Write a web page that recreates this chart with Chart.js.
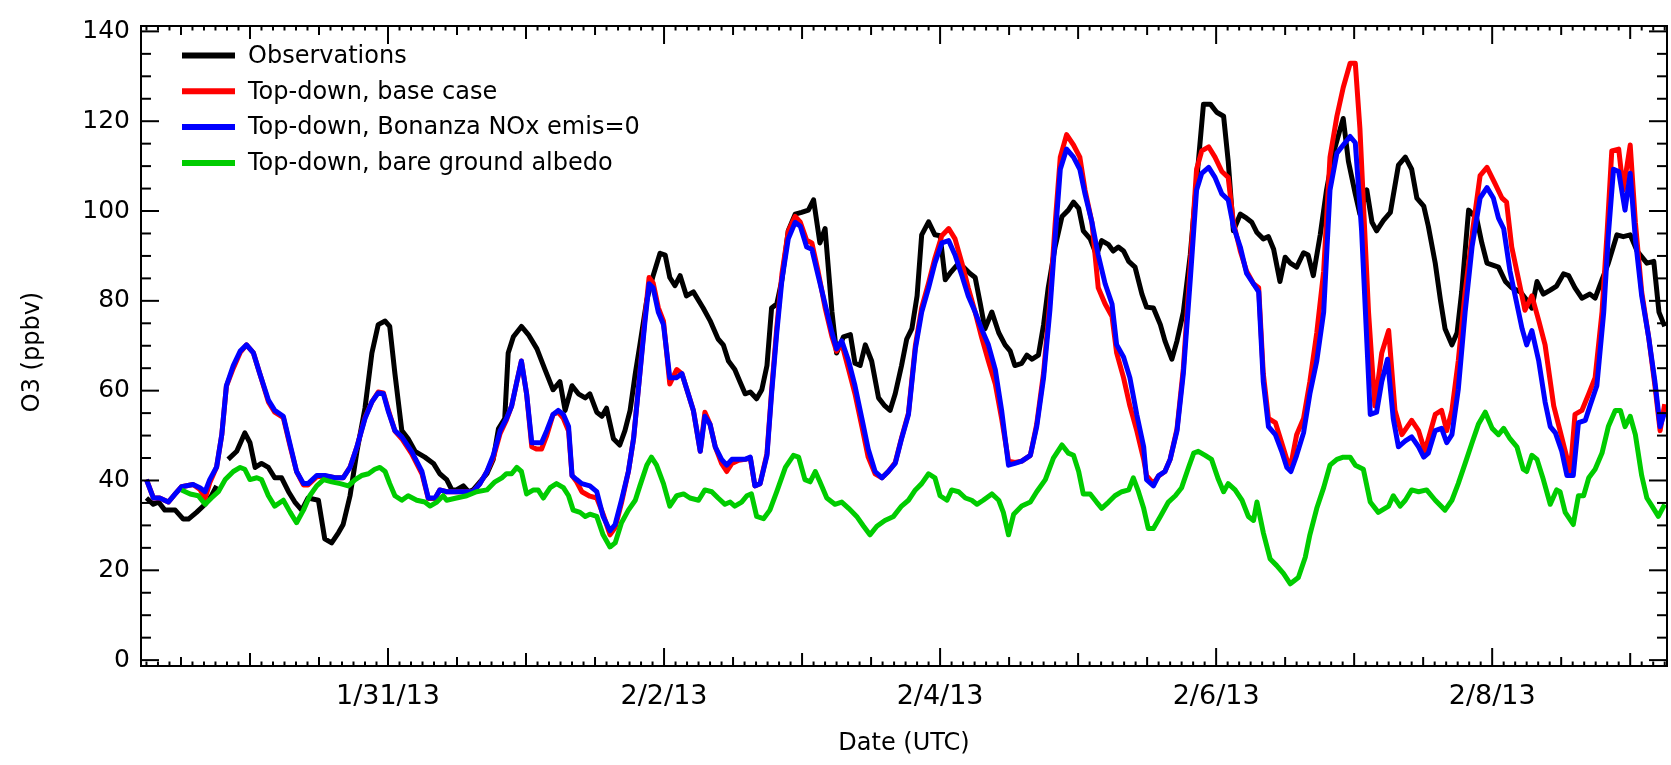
<!DOCTYPE html>
<html>
<head>
<meta charset="utf-8">
<title>O3 at the surface site</title>
<script src="https://cdn.jsdelivr.net/npm/chart.js@4.4.0/dist/chart.umd.min.js"></script>
<style>
  html, body { margin: 0; padding: 0; background: #fff; }
  #o3Chart { display: block; }
</style>
</head>
<body>
<canvas id="o3Chart" width="1671" height="765"></canvas>
<script>
// [hours after 1/29/13 00:00 UTC, O3 ppbv]
const observations = [[6,36.1],[7.2,34.7],[8.1,35.2],[9.2,33.4],[11,33.4],[12.4,31.4],[13.3,31.4],[14.7,32.9],[16.2,34.7],[17.3,36.6],[18.2,38.8],[19.2,null],[20.2,44.7],[21.7,46.5],[23.1,50.6],[24,48.4],[24.9,42.9],[26,43.8],[27.2,42.9],[28.3,40.6],[29.5,40.6],[30.7,37.5],[31.8,35.2],[33,33.4],[34.1,36.1],[35.9,35.6],[37,27],[38.2,26.1],[39.4,28.4],[40.2,30.2],[41.4,36.6],[42.6,46.5],[44,56.1],[45.2,68.4],[46.3,74.7],[47.5,75.5],[48.3,74.3],[49.2,63.8],[50.4,51.1],[51.5,49.3],[52.7,46.5],[54.4,45.2],[55.9,43.8],[57,41.5],[58.2,40.2],[59.1,37.9],[59.9,37.9],[61.1,38.8],[62,37.5],[62.8,37.9],[64,39.7],[65.2,41.5],[66.3,44.7],[67.2,51.5],[68.3,53.8],[68.9,68.4],[69.8,72],[71.2,74.3],[72.4,72.5],[73.9,69.3],[75.3,64.7],[76.7,60.2],[77.9,62],[78.8,55.6],[80,61.1],[81.1,59.3],[82.3,58.4],[83.1,59.3],[84.3,55.2],[85.2,54.3],[86,56.1],[87.2,49.3],[88.3,47.9],[89.2,51.1],[90.1,55.6],[91,63.8],[91.8,70.2],[93,80.2],[94.1,85.6],[95.3,90.6],[96.2,90.2],[97,85.2],[97.9,83.4],[98.8,85.6],[99.9,81.1],[101.1,82],[102.8,78.4],[104,75.6],[105.4,71.5],[106.3,70.2],[107.2,66.6],[108.3,64.7],[109.2,62],[110.1,59.3],[111,59.7],[112.1,58.2],[113,60.2],[113.9,65.6],[114.7,78.4],[115.6,79.3],[116.5,84.7],[117.6,95.6],[118.8,99.3],[119.9,99.7],[121.1,100.2],[122,102.5],[123.1,92.9],[124,96.1],[125.2,77.5],[126,68.4],[127.2,72],[128.4,72.5],[129.2,66.1],[130.1,65.6],[131,70.2],[132.1,66.6],[133.3,58.4],[134.4,56.6],[135.3,55.6],[136.2,59.3],[137.3,65.6],[138.2,71.5],[139.1,73.8],[140,81.1],[140.8,94.7],[142,97.6],[143.1,94.7],[144,94.5],[144.9,84.7],[145.7,86.1],[146.9,87.9],[148.1,87.5],[149.2,86.1],[150.1,85.2],[151,79.3],[151.8,73.8],[153,77.5],[154.2,72.9],[155.3,70.2],[156.2,68.8],[157,65.6],[158.2,66.1],[159.1,67.9],[160,67],[161.1,67.9],[162,74.7],[162.8,82.9],[164,92],[165.2,98.8],[166.3,100.2],[167.2,102],[168.1,100.6],[168.9,95.6],[170.1,93.8],[171.2,90.2],[172.1,93.4],[173.3,92.5],[174.1,91.1],[175,92],[175.9,91.1],[176.8,88.8],[177.9,87.5],[179.1,81.5],[179.9,78.6],[181.1,78.4],[182.3,74.7],[183.1,71.1],[184.3,67],[185.2,71.1],[186.3,77.5],[187.5,90.2],[188.6,106.5],[189.8,123.8],[191,123.8],[192.1,122],[193.3,121.1],[194.1,111.1],[195,95.6],[196.2,99.3],[197.3,98.4],[198.2,97.5],[199.1,95.2],[200.2,93.8],[201.1,94.3],[202,91.5],[203.1,84.3],[204,89.7],[204.9,88.4],[206,87.5],[207.2,90.7],[208,90.2],[208.9,85.6],[210.1,94.7],[211.2,104.7],[212.4,112.9],[213.6,118.4],[214.1,120.6],[215,111.1],[216.2,103.8],[217,99.3],[218.2,104.7],[219.1,97.5],[219.9,95.6],[221.1,97.9],[222.3,99.7],[223.7,110.2],[224.9,112],[226,109.3],[226.9,102.9],[228.1,101.1],[228.9,96.6],[230.1,88.4],[231,80.2],[231.8,73.8],[233,70.2],[233.9,72.9],[234.7,82],[235.9,100.2],[237.3,98.4],[238.2,92.9],[239.1,88.4],[241.1,87.5],[242.3,84.3],[243.4,82.9],[244.9,82],[246,80.2],[246.9,78.4],[247.8,84.3],[248.9,81.5],[250.1,82.4],[251.2,83.3],[252.4,86],[253.3,85.6],[254.4,82.9],[255.6,80.6],[257,81.5],[257.9,80.6],[259.1,84.7],[260.2,88.4],[261.7,94.7],[262.8,94.3],[264,94.7],[265.2,91.1],[266.9,88.4],[268.1,88.8],[269,77.5],[270,74.3]];

const baseCase = [[6,40.2],[7.2,36.1],[8.3,36.1],[9.8,35.2],[11,37],[12.1,38.6],[14.1,39.1],[15.3,38],[16.2,36],[17,39.5],[18.2,43],[19.1,50.2],[19.9,61],[21.1,65],[22.3,68.5],[23.4,70.2],[24.6,68.4],[25.7,63.8],[27.2,57.5],[28.3,55.2],[29.8,54],[31,47.5],[32.1,42],[33.3,39],[34.1,39],[35.6,40.8],[37,41],[38.8,40.6],[40.2,40.6],[41.4,43],[42.6,47.5],[44,54],[45.2,57.5],[46.3,59.7],[47.2,59.5],[48.1,55.5],[49.2,51],[50.4,49.3],[52.1,46],[53.9,41.5],[55,36],[56.2,36],[57,37.9],[58.2,37.5],[59.4,37.5],[60.5,37.5],[61.7,37.5],[62.8,37.5],[64,39.3],[65.2,42],[66.3,45],[67.5,50.5],[68.6,53.5],[69.5,56.6],[70.4,62],[71.2,66.6],[72.1,59.3],[73,47.5],[73.8,47],[74.7,47],[75.6,50],[76.7,54.7],[77.6,55.2],[78.5,53.8],[79.4,51],[80,41.1],[80.8,39.7],[81.7,37.5],[83.1,36.5],[84.3,36.1],[85.4,32.5],[86.6,27.9],[87.5,29.5],[88.6,35],[89.8,42],[90.7,49.3],[91.8,64],[92.7,76.5],[93.4,85.2],[94.1,84],[95,78.5],[95.9,75.5],[97,61.5],[98.2,64.7],[99.1,63.8],[100.2,59.3],[101.1,55.6],[102.3,46.5],[103.1,55.2],[104,52.5],[104.9,47.5],[106,43.8],[106.9,42],[107.8,43.8],[109,44.5],[110.1,44.7],[111,45],[111.8,38.8],[112.7,39.3],[113.9,46],[114.7,60],[115.6,74],[116.5,86],[117.6,95.5],[118.8,98.8],[119.7,97.5],[120.8,93.5],[121.7,92.9],[122.8,86.5],[124,78.5],[125.2,72],[126,68.8],[126.9,70.5],[128.1,64.7],[129.2,59.3],[130.4,52],[131.5,45.2],[132.7,41.5],[133.9,40.6],[135,42],[136.2,44],[137.3,49.5],[138.5,55],[139.7,70],[140.8,78.5],[142,84],[143.1,89.5],[144.3,94.5],[145.5,96.1],[146.6,93.8],[147.8,88.4],[148.9,82.9],[150.1,77.5],[151.2,72],[152.4,66.6],[153.6,61.5],[154.7,53.8],[155.9,44.3],[157,44],[158.2,44.3],[159.7,45.6],[160.8,52.5],[162,64],[163.1,80],[164,97],[164.9,112],[166,117],[167.2,114.7],[168.3,112],[169.2,104.7],[170.4,97.5],[171.5,82.9],[172.7,79.3],[173.9,76.5],[174.7,68.4],[175.9,62.9],[177,56.6],[178.2,51.1],[179.4,44.7],[179.9,41.1],[181.1,39.3],[182,41],[183.1,42],[184,44.7],[185.2,51.5],[186.3,65],[187.5,88],[188.6,109.3],[189.5,113.4],[190.7,114.3],[191.8,112],[193,108.8],[194.1,107.5],[195,97.5],[196.2,91.1],[197.3,86.6],[198.5,83.8],[199.4,82.9],[200.2,63.8],[201.1,53.8],[202.3,52.9],[203.4,48.4],[204.3,44.7],[205,43.5],[206,50.2],[207.2,53.8],[208.3,62],[209.5,72.9],[210.7,86.6],[211.8,112],[213,121.1],[214.1,127.5],[215.3,132.9],[216.2,132.9],[217,118.4],[218.5,77.5],[219.6,56.6],[220.8,68.4],[222,73.4],[223.1,55.6],[224.3,50.2],[226,53.4],[227.2,51.1],[228.3,46.5],[230.1,54.7],[231.2,55.6],[232.1,51.1],[233,55.6],[234.1,66.6],[235.3,82],[236.7,96.6],[237.9,107.9],[239.1,109.7],[240.5,106.1],[241.7,102.9],[242.5,102],[243.4,92],[244.6,84.7],[245.7,77.9],[246.9,81.1],[248.1,75.6],[249.2,70.2],[250.7,56.6],[251.8,51.1],[253.6,42],[254.4,54.7],[255.6,55.6],[256.8,59.3],[257.9,62.9],[259.1,77.5],[260,95.6],[260.8,113.4],[262,113.8],[262.8,104.7],[264,114.7],[264.9,97.5],[266,82],[267.2,72],[268.3,61.1],[269.2,51.1],[270,57]];

const noBonanzaNOx = [[6,40.2],[7.2,36.1],[8.3,36.1],[9.8,35.2],[11,37],[12.1,38.6],[14.1,39.1],[15.3,38.4],[16.2,37.5],[17,40.2],[18.2,43],[19.1,50.2],[19.9,61.1],[21.1,65.6],[22.3,68.8],[23.4,70.2],[24.6,68.4],[25.7,63.8],[27.2,57.9],[28.3,55.6],[29.8,54.3],[31,47.9],[32.1,42],[33.3,39.3],[34.1,39.3],[35.6,41.1],[37,41.1],[38.8,40.6],[40.2,40.6],[41.4,42.9],[42.6,47.5],[44,53.8],[45.2,57.5],[46.3,59.5],[47.2,59.3],[48.1,55.2],[49.2,51.1],[50.4,49.7],[52.1,46.5],[53.9,42],[55,36.1],[56.2,36.1],[57,37.9],[58.2,37.5],[59.4,37.5],[60.5,37.5],[61.7,37.5],[62.8,37.5],[64,39.3],[65.2,42],[66.3,45.6],[67.5,51.1],[68.6,53.8],[69.5,56.6],[70.4,62],[71.2,66.6],[72.1,59.3],[73,48.4],[73.8,48.4],[74.7,48.4],[75.6,51.1],[76.7,54.7],[77.6,55.6],[78.5,54.7],[79.4,52],[80,41.1],[80.8,40.2],[81.7,39.3],[83.1,38.8],[84.3,37.5],[85.4,32],[86.6,28.8],[87.5,30.2],[88.6,35.6],[89.8,42],[90.7,49.3],[91.8,63.8],[92.7,75.6],[93.4,83.8],[94.1,82.9],[95,77.5],[95.9,74.7],[97,62.9],[98.2,62.9],[99.1,63.8],[100.2,59.3],[101.1,55.6],[102.3,46.5],[103.1,54.3],[104,52.5],[104.9,47.5],[106,44.7],[106.9,43.4],[107.8,44.7],[109,44.7],[110.1,44.7],[111,45.2],[111.8,38.8],[112.7,39.3],[113.9,45.6],[114.7,59.3],[115.6,72.9],[116.5,84.7],[117.6,93.8],[118.8,97.5],[119.7,96.6],[120.8,92],[121.7,91.5],[122.8,85.6],[124,79.3],[125.2,72.9],[126,69.3],[126.9,71.1],[128.1,66.6],[129.2,61.1],[130.4,53.8],[131.5,47],[132.7,42],[133.9,40.6],[135,42],[136.2,43.8],[137.3,49.3],[138.5,54.7],[139.7,69.3],[140.8,77.5],[142,82.9],[143.1,88.4],[144.3,92.9],[145.5,93.4],[146.6,90.2],[147.8,85.6],[148.9,81.1],[150.1,77.5],[151.2,73.8],[152.4,70.2],[153.6,64.7],[154.7,55.6],[155.9,43.4],[157,43.8],[158.2,44.3],[159.7,45.6],[160.8,52],[162,62.9],[163.1,78],[164,94],[164.9,109.3],[166,113.8],[167.2,112],[168.3,109.3],[169.2,103.8],[170.4,97.5],[171.5,90.2],[172.7,83.8],[173.9,79.3],[174.7,70.2],[175.9,67.5],[177,62.9],[178.2,54.7],[179.4,47.5],[179.9,40.2],[181.1,38.8],[182,41.1],[183.1,42],[184,44.7],[185.2,51.1],[186.3,63.8],[187.5,84.7],[188.6,104.7],[189.5,108.4],[190.7,109.7],[191.8,107.5],[193,103.8],[194.1,102.5],[195,96.6],[196.2,92],[197.3,86.1],[198.5,83.8],[199.4,82],[200.2,62],[201.1,52],[202.3,50.2],[203.4,46.5],[204.3,42.9],[205,42],[206,45.6],[207.2,50.6],[208.3,59.3],[209.5,66.6],[210.7,77.5],[211.8,104.7],[213,112.9],[214.1,114.7],[215.3,116.6],[216.2,115.2],[217.3,95.6],[218.8,54.7],[219.9,55.2],[220.8,62],[221.8,67],[222.8,53.8],[223.7,47.5],[224.9,48.8],[226,49.7],[227.2,47.5],[228.1,45.2],[228.9,46.1],[230.1,51.1],[231.2,51.6],[232.1,48.4],[233,50.2],[234.1,60.2],[235.3,77.5],[236.5,92],[237.9,102.9],[239.1,105.2],[240.2,102.9],[241.1,98.4],[242,96.1],[243.1,86.6],[244.3,79.3],[245.2,73.8],[246,70.2],[246.9,73.4],[248.1,66.6],[249.2,57.5],[250.1,52],[251,50.6],[252.1,46.5],[253,41.1],[254.1,41.1],[255,52.9],[256.2,53.4],[257,56.6],[258.2,61.1],[259.4,77.5],[260.2,94.7],[261.1,109.3],[262,108.8],[263.1,100.2],[264,108.4],[264.9,93.8],[266,81.1],[267.2,72],[268.3,62],[269.2,52],[270,55.2]];

const bareGround = [[12.1,37.9],[13.6,37],[15,36.6],[16.2,34.7],[17.3,36.1],[18.5,37.5],[19.7,40.2],[21.1,42],[22.3,42.9],[23.1,42.5],[24,40.2],[25.2,40.6],[26,40.2],[27.2,36.6],[28.3,34.3],[29.8,35.6],[31,32.9],[32.1,30.6],[33.3,33.4],[34.4,36.6],[35.6,38.8],[36.8,40.2],[38.2,39.7],[39.7,39.3],[41.1,38.8],[42.3,40.2],[43.4,41.1],[44.6,41.5],[45.7,42.5],[46.6,42.9],[47.5,42],[48.3,39.3],[49.2,36.6],[50.4,35.6],[51.5,36.6],[53,35.6],[54.4,35.2],[55.3,34.3],[56.5,35.2],[57.6,36.6],[58.2,35.6],[59.9,36.1],[61.7,36.6],[63.4,37.5],[65.2,37.9],[66.6,39.7],[67.8,40.6],[68.6,41.5],[69.5,41.5],[70.4,42.9],[71.2,42],[72.1,37],[73.3,37.9],[74.1,37.9],[75,36.1],[76.2,38.4],[77.3,39.3],[78.5,38.4],[79.4,36.6],[80.2,33.4],[81.4,32.9],[82.3,32],[83.1,32.5],[84.3,32],[85.4,27.9],[86.6,25.2],[87.5,26.1],[88.6,30.6],[89.8,33.4],[91,35.6],[91.8,38.8],[93,43.4],[93.8,45.2],[94.7,43.4],[95.9,39.3],[97,34.3],[98.2,36.6],[99.4,37],[100.5,36.1],[102,35.6],[103.1,37.9],[104.3,37.5],[105.4,36.1],[106.6,34.7],[107.5,35.2],[108.3,34.3],[109.5,35.2],[110.4,36.6],[111.2,37],[112.1,32],[113.3,31.5],[114.4,33.4],[115.6,37.5],[117.1,42.9],[118.5,45.6],[119.4,45.2],[120.5,40.2],[121.4,39.7],[122.3,42],[123.1,39.7],[124.3,36.1],[125.7,34.7],[126.9,35.2],[128.1,33.8],[129.5,32],[130.7,29.8],[131.8,27.9],[133,29.8],[134.4,31.1],[135.9,32],[137.3,34.3],[138.5,35.6],[139.7,37.9],[140.8,39.3],[142,41.5],[143.1,40.6],[144,36.6],[145.2,35.6],[146,37.9],[147.2,37.5],[148.4,36.1],[149.5,35.6],[150.4,34.7],[151.5,35.6],[153,37],[154.2,35.6],[155,32.9],[155.9,27.9],[156.8,32.5],[158.2,34.3],[159.7,35.2],[160.8,37.5],[162.3,40.2],[163.7,45],[165.2,47.9],[166.3,46.1],[167.2,45.6],[168.1,42],[168.9,37],[170.1,37],[171.2,35.2],[172.1,33.8],[173.3,35.2],[174.4,36.6],[175.6,37.5],[176.8,37.9],[177.6,40.6],[178.5,37.5],[179.4,33.8],[180.2,29.3],[181.1,29.3],[182.3,32],[183.7,35.2],[184.9,36.6],[186,38.4],[187.2,42.9],[188.1,46.1],[188.9,46.5],[190.1,45.6],[191.2,44.7],[192.4,40.2],[193.3,37.5],[194.1,39.3],[195.3,37.9],[196.5,35.6],[197.6,32],[198.5,31.1],[199.1,35.2],[200.2,28.4],[201.4,22.5],[202.5,21.1],[203.7,19.3],[204.9,17],[206.3,18.4],[207.5,22.9],[208.3,27.9],[209.5,33.8],[210.7,38.4],[211.8,43.4],[213,44.7],[214.1,45.2],[215.3,45.2],[216.2,43.4],[217.6,42.5],[218.8,35.2],[220.2,32.9],[222,34.3],[222.8,36.6],[224,34.3],[224.9,35.6],[226,37.9],[227.2,37.5],[228.6,37.9],[230.1,35.6],[231.8,33.4],[233,35.6],[234.1,39.3],[235.3,43.8],[236.5,48.4],[237.6,52.5],[238.8,55.2],[240,51.6],[241.1,50.2],[242,51.6],[243.1,49.3],[244.3,47.5],[245.4,42.5],[246,42],[246.9,45.6],[247.8,44.7],[248.9,40.2],[250.1,34.7],[251.2,37.9],[251.8,37.5],[252.7,32.9],[254.1,30.2],[255,36.6],[255.9,36.6],[256.8,40.6],[257.9,42.5],[259.1,46.1],[260.2,52],[261.4,55.6],[262.3,55.6],[263.1,52],[264,54.3],[264.9,50.2],[266,41.1],[266.9,36.1],[267.8,34.3],[268.9,32],[270,34.7]];

const seriesLabels = ['Observations', 'Top-down, base case', 'Top-down, Bonanza NOx emis=0', 'Top-down, bare ground albedo'];
const seriesColors = ['#000000', '#ff0000', '#0000ff', '#00cc00'];

const dateTickHours = [48, 96, 144, 192, 240];
const dateTickLabels = ['1/31/13', '2/2/13', '2/4/13', '2/6/13', '2/8/13'];
const o3Ticks = [0, 20, 40, 60, 80, 100, 120, 140];

Chart.defaults.font.family = '"DejaVu Sans", sans-serif';
Chart.defaults.color = '#000';

// box around the plot with inward ticks on all four sides, plus axis titles
const boxAxes = {
  id: 'boxAxes',
  afterDraw(chart) {
    const { ctx, chartArea: area, scales: { x, y } } = chart;
    const seg = (x1, y1, x2, y2) => { ctx.beginPath(); ctx.moveTo(x1, y1); ctx.lineTo(x2, y2); ctx.stroke(); };
    ctx.save();
    ctx.strokeStyle = '#000';
    ctx.lineWidth = 2;
    ctx.strokeRect(area.left, area.top, area.right - area.left, area.bottom - area.top);

    for (let v = 0; v <= 140; v += 5) {
      const py = y.getPixelForValue(v);
      const len = v % 20 === 0 ? 18 : 10;
      seg(area.left, py, area.left + len, py);
      seg(area.right, py, area.right - len, py);
    }
    // every 2 h, longer at noon, midnight and each labelled day
    for (let h = 6; h <= 270; h += 2) {
      const px = x.getPixelForValue(h);
      let len = 4.5;
      if (h % 48 === 0) len = 18;
      else if (h % 24 === 0) len = 13;
      else if (h % 12 === 0) len = 9;
      seg(px, area.bottom, px, area.bottom - len);
      seg(px, area.top, px, area.top + len);
    }

    ctx.fillStyle = '#000';
    ctx.font = '24px "DejaVu Sans"';
    ctx.textAlign = 'center';
    ctx.textBaseline = 'middle';
    ctx.fillText('Date (UTC)', (area.left + area.right) / 2, 744);
    ctx.translate(33, (area.top + area.bottom) / 2 + 6);
    ctx.rotate(-Math.PI / 2);
    ctx.fillText('O3 (ppbv)', 0, 0);
    ctx.restore();
  }
};

// legend rows inside the upper left of the plot
const insideLegend = {
  id: 'insideLegend',
  afterDraw(chart) {
    const ctx = chart.ctx;
    ctx.save();
    ctx.font = '24px "DejaVu Sans"';
    ctx.textBaseline = 'middle';
    ctx.textAlign = 'left';
    chart.data.datasets.forEach((ds, i) => {
      const rowY = 55.5 + i * 35.8;
      ctx.strokeStyle = ds.borderColor;
      ctx.lineWidth = 6;
      ctx.beginPath();
      ctx.moveTo(182, rowY);
      ctx.lineTo(235, rowY);
      ctx.stroke();
      ctx.fillStyle = '#000';
      ctx.fillText(ds.label, 248, rowY + 1);
    });
    ctx.restore();
  }
};

const allSeries = [observations, baseCase, noBonanzaNOx, bareGround];

const ctx = document.getElementById('o3Chart');
const o3Chart = new Chart(ctx, {
  type: 'line',
  data: {
    datasets: allSeries.map((rows, i) => ({
      label: seriesLabels[i],
      data: rows.map(r => ({ x: r[0], y: r[1] })),
      borderColor: seriesColors[i],
      borderWidth: 5,
      borderJoinStyle: 'round',
      pointRadius: 0,
      tension: 0,
      fill: false,
      order: allSeries.length - i // observations underneath, albedo run on top
    }))
  },
  options: {
    responsive: false,
    animation: false,
    devicePixelRatio: 1,
    layout: { padding: { top: 14, right: 4, left: 0, bottom: 0 } },
    plugins: { legend: { display: false }, tooltip: { enabled: false } },
    scales: {
      x: {
        type: 'linear',
        min: 5.05,
        max: 270.4,
        grid: { display: false, drawTicks: false },
        border: { display: false },
        afterBuildTicks: scale => { scale.ticks = dateTickHours.map(v => ({ value: v })); },
        afterFit: scale => { scale.height = 99; },
        ticks: {
          autoSkip: false,
          maxRotation: 0,
          padding: 15,
          font: { size: 27 },
          callback: value => dateTickLabels[dateTickHours.indexOf(value)]
        }
      },
      y: {
        min: -1.31,
        max: 141.2,
        grid: { display: false, drawTicks: false },
        border: { display: false },
        afterBuildTicks: scale => { scale.ticks = o3Ticks.map(v => ({ value: v })); },
        afterFit: scale => { scale.width = 141; },
        ticks: { padding: 11, font: { size: 25 } }
      }
    }
  },
  plugins: [boxAxes, insideLegend]
});
</script>
</body>
</html>
